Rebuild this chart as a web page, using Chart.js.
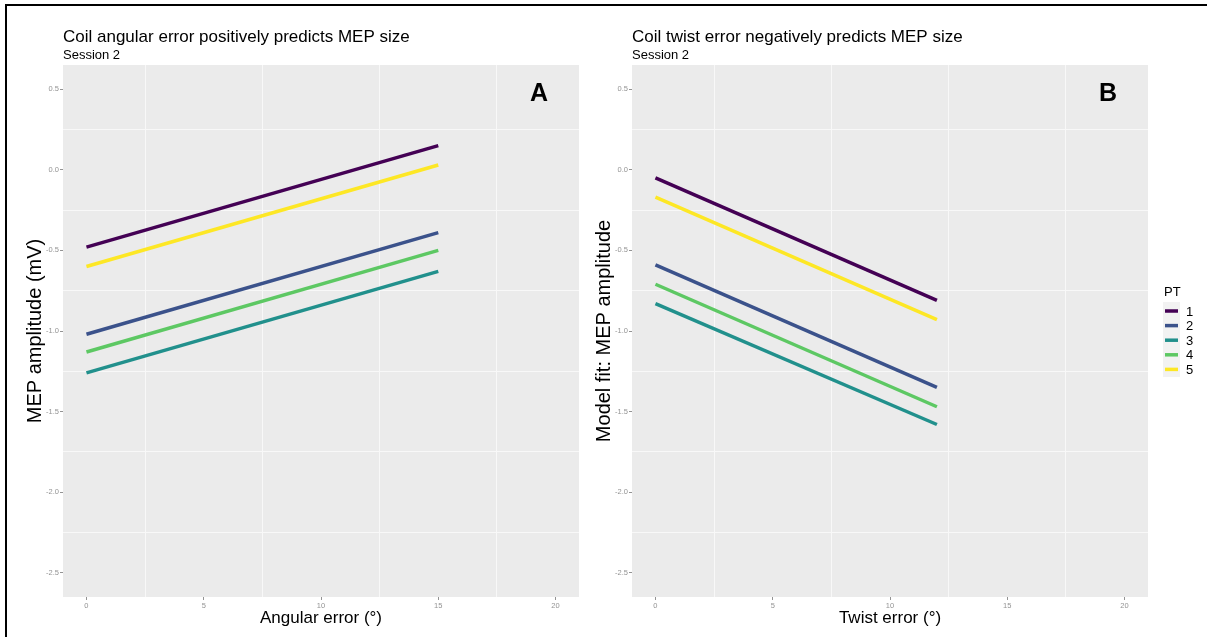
<!DOCTYPE html>
<html>
<head>
<meta charset="utf-8">
<title>MEP size vs coil error</title>
<script src="https://cdn.jsdelivr.net/npm/chart.js@4.4.1/dist/chart.umd.min.js"></script>
<style>
    html, body { margin: 0; padding: 0; background: #ffffff; }
    #figure { position: relative; width: 1207px; height: 637px; overflow: hidden; }
    #figure canvas { position: absolute; top: 0; }
    #panelA { left: 0; }
    #panelB { left: 569px; }
    .frame-left { position: absolute; left: 5px; top: 4px; width: 2px; height: 633px; background: #000; }
    .frame-top { position: absolute; left: 5px; top: 4px; width: 1202px; height: 2px; background: #000; }
</style>
</head>
<body>
<div id="figure">
    <canvas id="panelA" width="600" height="637"></canvas>
    <canvas id="panelB" width="638" height="637"></canvas>
    <div class="frame-left"></div>
    <div class="frame-top"></div>
</div>
<script>
// Participants and their viridis colours
const ptLabels = ['1', '2', '3', '4', '5'];
const ptColors = ['#440154', '#3B528B', '#21908C', '#5DC863', '#FDE725'];

// Panel A: fitted MEP amplitude (mV) at 0° and 15° angular error
const angularRange = [0, 15];
const angularStart = [-0.48, -1.02, -1.26, -1.13, -0.60];
const angularEnd = [0.15, -0.39, -0.63, -0.50, 0.03];

// Panel B: model fit at 0° and 12° twist error
const twistRange = [0, 12];
const twistStart = [-0.05, -0.59, -0.83, -0.71, -0.17];
const twistEnd = [-0.81, -1.35, -1.58, -1.47, -0.93];

// Axis ticks
const xTicks = [0, 5, 10, 15, 20];
const yTicks = [0.5, 0.0, -0.5, -1.0, -1.5, -2.0, -2.5];

Chart.defaults.font.family = "'Liberation Sans', Arial, sans-serif";

const PANEL_BG = '#EBEBEB';
const GRID_COLOR = '#F8F8F8';
const TICK_COLOR = '#939393';

const near = (a, b) => Math.abs(a - b) < 1e-6;
const isXMajor = v => xTicks.some(t => near(t, v));
const isYMajor = v => yTicks.some(t => near(t, v));

function buildDatasets(range, starts, ends) {
    return ptLabels.map((pt, i) => ({
        label: pt,
        data: [
            { x: range[0], y: starts[i] },
            { x: range[1], y: ends[i] }
        ],
        borderColor: ptColors[i],
        backgroundColor: ptColors[i],
        borderWidth: 3.5,
        borderCapStyle: 'butt',
        pointRadius: 0,
        tension: 0
    }));
}

// grey panel behind the plotting area
const panelBackground = {
    id: 'panelBackground',
    beforeDraw(chart) {
        const { ctx, chartArea: a } = chart;
        ctx.save();
        ctx.fillStyle = PANEL_BG;
        ctx.fillRect(a.left, a.top, a.right - a.left, a.bottom - a.top);
        ctx.restore();
    }
};

// title, subtitle and the big panel letter
const panelText = {
    id: 'panelText',
    afterDraw(chart, args, opts) {
        const { ctx, chartArea: a } = chart;
        ctx.save();
        ctx.fillStyle = '#000';
        ctx.textAlign = 'left';
        ctx.textBaseline = 'alphabetic';
        ctx.font = "17px 'Liberation Sans', Arial, sans-serif";
        ctx.fillText(opts.title, a.left, 42);
        ctx.font = "13px 'Liberation Sans', Arial, sans-serif";
        ctx.fillText(opts.subtitle, a.left, 59);
        ctx.font = "bold 25px 'Liberation Sans', Arial, sans-serif";
        ctx.textAlign = 'center';
        ctx.textBaseline = 'middle';
        ctx.fillText(opts.letter, a.right - 40, 94);
        ctx.restore();
    }
};

// ggplot-style legend on the right of panel B
const ptLegend = {
    id: 'ptLegend',
    afterDraw(chart, args, opts) {
        if (!opts.show) return;
        const { ctx } = chart;
        const x0 = opts.x;
        const y0 = opts.y;
        const rowH = 14.6;
        ctx.save();
        ctx.fillStyle = '#000';
        ctx.font = "13px 'Liberation Sans', Arial, sans-serif";
        ctx.textAlign = 'left';
        ctx.textBaseline = 'alphabetic';
        ctx.fillText('PT', x0, y0 - 15);
        ctx.fillStyle = '#F2F2F2';
        ctx.fillRect(x0 - 1, y0 - 9, 17, rowH * ptLabels.length + 2);
        chart.data.datasets.forEach((ds, i) => {
            const yy = y0 + i * rowH;
            ctx.strokeStyle = ds.borderColor;
            ctx.lineWidth = 3.5;
            ctx.beginPath();
            ctx.moveTo(x0 + 1, yy);
            ctx.lineTo(x0 + 14, yy);
            ctx.stroke();
            ctx.fillStyle = '#000';
            ctx.textBaseline = 'middle';
            ctx.fillText(ds.label, x0 + 22, yy + 1);
        });
        ctx.restore();
    }
};

function makeOptions(xTitle, yTitle, texts, legend, rightPad) {
    return {
        responsive: false,
        animation: false,
        layout: { padding: { top: 65, right: rightPad, bottom: 0, left: 0 } },
        plugins: {
            legend: { display: false },
            tooltip: { enabled: false },
            panelText: texts,
            ptLegend: legend
        },
        scales: {
            x: {
                type: 'linear',
                min: -1,
                max: 21,
                afterFit(scale) { scale.height = 40; },
                ticks: {
                    stepSize: 2.5,
                    autoSkip: false,
                    includeBounds: false,
                    maxRotation: 0,
                    padding: 1,
                    color: TICK_COLOR,
                    font: { size: 7.5 },
                    callback: v => (isXMajor(v) ? String(v) : '')
                },
                grid: {
                    color: c => (c.tick && !isXMajor(c.tick.value) ? GRID_COLOR : 'rgba(0,0,0,0)'),
                    tickColor: c => (c.tick && isXMajor(c.tick.value) ? TICK_COLOR : 'rgba(0,0,0,0)'),
                    tickLength: 3,
                    lineWidth: 1
                },
                border: { display: false },
                title: {
                    display: true,
                    text: xTitle,
                    color: '#000',
                    font: { size: 17 },
                    padding: { top: 0, bottom: 8 }
                }
            },
            y: {
                type: 'linear',
                min: -2.65,
                max: 0.65,
                afterFit(scale) { scale.width = 63; },
                ticks: {
                    stepSize: 0.25,
                    autoSkip: false,
                    includeBounds: false,
                    padding: 1,
                    color: TICK_COLOR,
                    font: { size: 7.5 },
                    callback: v => (isYMajor(v) ? v.toFixed(1) : '')
                },
                grid: {
                    color: c => (c.tick && !isYMajor(c.tick.value) ? GRID_COLOR : 'rgba(0,0,0,0)'),
                    tickColor: c => (c.tick && isYMajor(c.tick.value) ? TICK_COLOR : 'rgba(0,0,0,0)'),
                    tickLength: 3,
                    lineWidth: 1
                },
                border: { display: false },
                title: {
                    display: true,
                    text: yTitle,
                    color: '#000',
                    font: { size: 20 },
                    padding: { top: 23, bottom: 0 }
                }
            }
        }
    };
}

new Chart(document.getElementById('panelA'), {
    type: 'line',
    data: { datasets: buildDatasets(angularRange, angularStart, angularEnd) },
    options: makeOptions(
        'Angular error (°)',
        'MEP amplitude (mV)',
        { title: 'Coil angular error positively predicts MEP size', subtitle: 'Session 2', letter: 'A' },
        { show: false },
        21
    ),
    plugins: [panelBackground, panelText, ptLegend]
});

new Chart(document.getElementById('panelB'), {
    type: 'line',
    data: { datasets: buildDatasets(twistRange, twistStart, twistEnd) },
    options: makeOptions(
        'Twist error (°)',
        'Model fit: MEP amplitude',
        { title: 'Coil twist error negatively predicts MEP size', subtitle: 'Session 2', letter: 'B' },
        { show: true, x: 1164 - 569, y: 311 },
        59
    ),
    plugins: [panelBackground, panelText, ptLegend]
});
</script>
</body>
</html>
